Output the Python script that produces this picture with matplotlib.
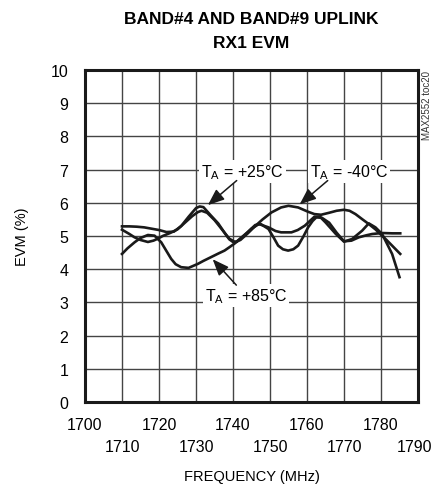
import matplotlib
matplotlib.use("Agg")
import matplotlib.pyplot as plt
from matplotlib.transforms import offset_copy

plt.rcParams['font.family'] = ['Liberation Sans', 'DejaVu Sans']
plt.rcParams['mathtext.fontset'] = 'custom'
plt.rcParams['mathtext.rm'] = 'Liberation Sans'

# ---- data ----
freq_p25 = [1710, 1712, 1714, 1716, 1718, 1720, 1722, 1724, 1726, 1728, 1730, 1731, 1732, 1734,
            1736, 1738, 1739, 1740, 1741, 1743, 1745, 1747, 1749.6, 1751.5, 1753, 1755.8, 1757.5,
            1759.4, 1762, 1763.5, 1765, 1767.8, 1770, 1772.2, 1774.9, 1776.7, 1778.5, 1780.3,
            1783, 1785]
evm_p25 = [5.29, 5.29, 5.28, 5.26, 5.22, 5.18, 5.12, 5.13, 5.30, 5.58, 5.84, 5.89, 5.87, 5.62,
           5.38, 5.05, 4.90, 4.82, 4.82, 5.01, 5.22, 5.36, 5.26, 5.15, 5.11, 5.11, 5.18,
           5.31, 5.58, 5.58, 5.41, 5.06, 4.83, 4.91, 5.16, 5.38, 5.26, 5.06,
           4.46, 3.76]

freq_m40 = [1710, 1712, 1713.4, 1715, 1717, 1718.5, 1719.7, 1721, 1723, 1725, 1727, 1729, 1730.5,
            1731.5, 1733, 1735, 1737, 1739, 1740.5, 1742, 1744, 1746, 1748, 1750.4, 1753, 1755,
            1757.6, 1760.3, 1762, 1763.8, 1766, 1768, 1770, 1771.5, 1773.1, 1775, 1776.7, 1778.5,
            1779.8, 1781.5, 1783, 1785.2]
evm_m40 = [5.19, 5.06, 4.96, 4.88, 4.82, 4.86, 4.92, 5.00, 5.09, 5.20, 5.40, 5.60, 5.72,
           5.76, 5.70, 5.48, 5.20, 4.92, 4.82, 4.88, 5.08, 5.30, 5.50, 5.71, 5.86, 5.91,
           5.86, 5.73, 5.66, 5.64, 5.70, 5.76, 5.79, 5.76, 5.66, 5.50, 5.36, 5.20,
           5.06, 4.88, 4.71, 4.46]

freq_p85 = [1710, 1711.5, 1713.4, 1715, 1717, 1718.8, 1720.6, 1722, 1723.3, 1724.5, 1726, 1728,
            1730.5, 1732, 1734, 1736, 1737.7, 1739, 1740.4, 1742, 1744, 1746, 1747.5, 1749.6,
            1751, 1752.2, 1753.5, 1754.9, 1756.3, 1757.6, 1759, 1760.3, 1761.5, 1762.5, 1764,
            1766, 1768, 1770, 1772, 1774, 1776, 1777.6, 1780.3, 1783, 1785.2]
evm_p85 = [4.46, 4.63, 4.81, 4.94, 5.03, 5.01, 4.81, 4.55, 4.31, 4.15, 4.06, 4.04,
           4.16, 4.25, 4.36, 4.47, 4.56, 4.66, 4.77, 4.93, 5.12, 5.33, 5.36, 5.21,
           4.95, 4.71, 4.60, 4.56, 4.60, 4.71, 4.98, 5.26, 5.45, 5.56, 5.55,
           5.40, 5.10, 4.84, 4.86, 4.96, 5.02, 5.06, 5.09, 5.08, 5.08]

x_ticks = [1700, 1710, 1720, 1730, 1740, 1750, 1760, 1770, 1780, 1790]
y_ticks = [0, 1, 2, 3, 4, 5, 6, 7, 8, 9, 10]
title_lines = ["BAND#4 AND BAND#9 UPLINK", "RX1 EVM"]
x_label = "FREQUENCY (MHz)"
y_label = "EVM (%)"

fig = plt.figure(figsize=(4.33, 4.85), dpi=100)
ax = fig.add_axes([85/433, 1-403/485, (418-85)/433, (403-71)/485])

for f, e in [(freq_p25, evm_p25), (freq_m40, evm_m40), (freq_p85, evm_p85)]:
    ax.plot(f, e, color='#1a1a1a', lw=1.9, solid_joinstyle='round', zorder=3)

ax.set_xlim(1700, 1790)
ax.set_ylim(0, 10)
ax.set_xticks(x_ticks)
ax.set_xticklabels([])
ax.set_yticks(y_ticks)
ax.set_yticklabels([str(t) for t in y_ticks], fontsize=11.5)
ax.tick_params(length=0)
ax.tick_params(axis='y', pad=12)
ax.grid(True, color='#444444', lw=1.0, zorder=1)
for s in ax.spines.values():
    s.set_linewidth(2.2)
    s.set_color('#1a1a1a')

# staggered x tick labels
xtr = ax.get_xaxis_transform()
for i, t in enumerate(x_ticks):
    dy = -22 if i % 2 == 0 else -45
    dx = -3 if t == x_ticks[-1] else 0
    tr = offset_copy(xtr, fig=fig, x=dx, y=dy, units='dots')
    ax.text(t, 0, str(t), transform=tr, ha='center', va='center', fontsize=11.5,
            clip_on=False)

fig.text(251.5/433, 1-19/485, title_lines[0], ha='center', va='center', fontsize=12.5,
         fontweight='bold')
fig.text(251.5/433, 1-44/485, title_lines[1], ha='center', va='center', fontsize=12.5,
         fontweight='bold')
fig.text(251.5/433, 1-477/485, x_label, ha='center', va='center', fontsize=10.5)
fig.text(22/433, 1-237/485, y_label, ha='center', va='center', rotation=90, fontsize=10.5)
fig.text(427/433, 1-71/485, "MAX2552 toc20", ha='center', va='top', rotation=90,
         fontsize=7, color='#333333')

bbox = dict(facecolor='white', edgecolor='none', pad=1.5)
ax.text(1742.5, 6.95, r"T$_\mathregular{A}$ = +25°C", ha='center', va='center',
        fontsize=11.5, bbox=bbox, zorder=4)
ax.text(1771.3, 6.95, r"T$_\mathregular{A}$ = -40°C", ha='center', va='center',
        fontsize=11.5, bbox=bbox, zorder=4)
ax.text(1743.5, 3.2, r"T$_\mathregular{A}$ = +85°C", ha='center', va='center',
        fontsize=11.5, bbox=bbox, zorder=4)

ap = dict(arrowstyle='-|>,head_length=1.0,head_width=0.4', color='#1a1a1a', lw=1.1,
          shrinkA=0, shrinkB=0)
ax.annotate("", xy=(1733.2, 5.93), xytext=(1741.0, 6.67), arrowprops=ap, zorder=5)
ax.annotate("", xy=(1758.0, 5.95), xytext=(1765.6, 6.67), arrowprops=ap, zorder=5)
ax.annotate("", xy=(1734.5, 4.30), xytext=(1740.9, 3.52), arrowprops=ap, zorder=5)

fig.savefig("out.png", dpi=100)
